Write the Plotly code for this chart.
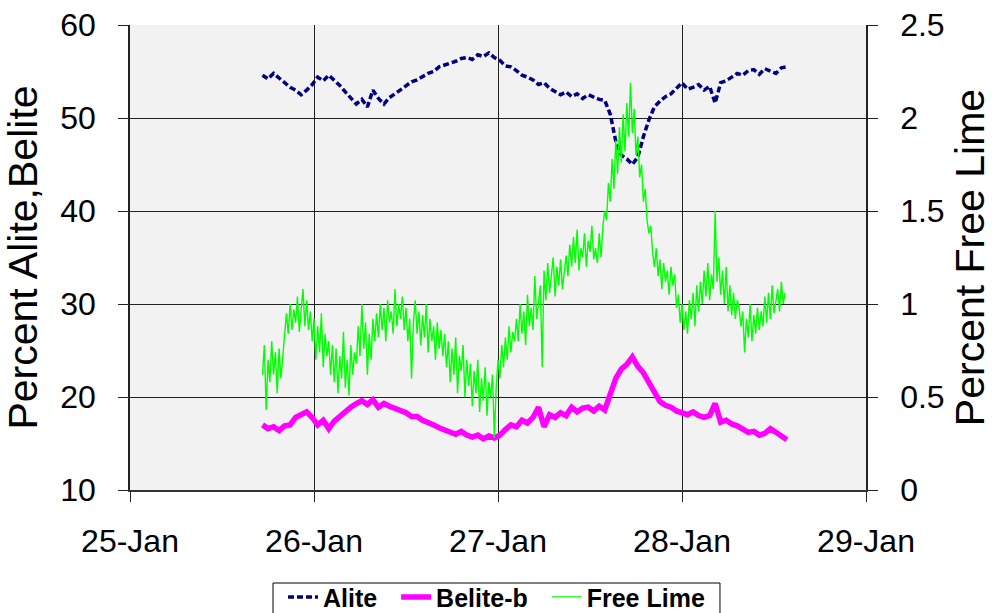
import pandas as pd
import plotly.graph_objects as go

# Sampling start and intervals of the kiln analyser records
START = pd.Timestamp("2003-01-25 17:17")
STEP_AB = "2592s"   # Alite / Belite-b sampling interval (0.03 day)
STEP_FL = "864s"    # Free Lime sampling interval (0.01 day)

# Percent Alite (left axis)
alite = [
    54.6, 54.2, 54.8, 54.3, 53.7, 53.3, 53.0, 52.5, 53.0, 53.6,
    54.4, 54.0, 54.6, 54.1, 53.5, 52.8, 52.2, 51.5, 52.0, 51.2,
    53.0, 52.1, 51.5, 52.2, 52.6, 53.0, 53.4, 53.9, 54.1, 54.5,
    54.8, 55.0, 55.5, 55.7, 55.9, 56.1, 56.4, 56.5, 56.3, 56.8,
    56.6, 57.0, 56.5, 56.2, 55.6, 55.5, 55.1, 54.6, 54.4, 54.1,
    53.6, 53.8, 53.2, 52.8, 52.5, 52.8, 52.3, 52.6, 52.1, 52.5,
    52.2, 52.0, 51.9, 50.4, 47.5, 46.0, 45.6, 45.0, 45.8, 48.0,
    49.8, 51.2, 51.8, 52.3, 52.6, 53.2, 53.8, 53.1, 53.3, 53.6,
    53.0, 53.4, 51.6, 53.8, 54.0, 54.4, 54.8, 54.6, 55.1, 55.2,
    54.7, 55.3, 55.0, 54.8, 55.4, 55.5,
]

# Percent Belite-b (left axis)
belite_b = [
    17.0, 16.6, 16.8, 16.4, 16.9, 17.0, 17.8, 18.1, 18.4, 17.8,
    17.0, 17.5, 16.6, 17.4, 17.9, 18.5, 18.9, 19.3, 19.6, 19.2,
    19.7, 18.9, 19.3, 19.0, 18.8, 18.6, 18.3, 17.9, 17.9, 17.5,
    17.3, 17.0, 16.7, 16.5, 16.2, 16.0, 16.3, 15.9, 15.7, 15.9,
    15.5, 15.8, 15.6, 15.9, 16.5, 17.0, 16.8, 17.5, 17.2, 17.8,
    18.9, 16.8, 18.1, 17.8, 18.3, 18.0, 18.9, 18.4, 18.8, 18.9,
    18.5, 19.0, 18.6, 20.2, 22.0, 23.0, 23.5, 24.3, 23.3, 22.6,
    21.6, 20.4, 19.5, 19.1, 18.9, 18.5, 18.3, 18.1, 18.4, 18.0,
    17.8, 18.0, 19.3, 17.3, 17.5, 17.1, 16.9, 16.5, 16.2, 16.3,
    15.9, 16.1, 16.6, 16.2, 15.8, 15.4,
]

# Percent Free Lime (right axis)
free_lime = [
    0.62, 0.78, 0.43, 0.70, 0.58, 0.80, 0.62, 0.74, 0.52, 0.76, 0.60, 0.72,
    0.82, 0.95, 0.84, 1.00, 0.86, 0.97, 0.90, 1.04, 0.85, 0.98, 1.08, 0.88, 1.02, 0.86, 0.96,
    0.80, 0.92, 0.70, 0.88, 0.74, 0.95, 0.66, 0.84, 0.72, 0.80, 0.62, 0.78,
    0.58, 0.76, 0.52, 0.72, 0.60, 0.85, 0.55, 0.70, 0.51, 0.78, 0.62, 0.74,
    0.68, 0.88, 0.72, 1.00, 0.76, 0.90, 0.62, 0.84, 0.70, 0.92, 0.80,
    0.95, 0.82, 1.00, 0.86, 0.98, 0.80, 1.02, 0.90, 0.96, 0.84, 1.08, 0.88, 1.00, 0.92,
    1.04, 0.86, 0.98, 0.80, 0.92, 0.60, 0.90, 1.02, 0.84, 0.96, 0.78, 0.94,
    0.82, 1.00, 0.74, 0.92, 0.80, 0.88, 0.70, 0.90, 0.76, 0.86, 0.72, 0.84,
    0.66, 0.80, 0.58, 0.76, 0.62, 0.82, 0.52, 0.72, 0.64, 0.78, 0.50, 0.70,
    0.56, 0.68, 0.45, 0.64, 0.52, 0.70, 0.42, 0.60, 0.48, 0.66, 0.40, 0.58, 0.50, 0.62, 0.28,
    0.55, 0.70, 0.60, 0.78, 0.66, 0.82, 0.70, 0.88, 0.74, 0.85, 0.80,
    0.92, 0.80, 1.00, 0.84, 0.96, 0.78, 1.05, 0.88, 0.98, 0.86, 1.15, 0.92, 1.02,
    1.10, 0.66, 1.18, 1.02, 1.22, 1.06, 1.15, 1.25, 1.04, 1.20, 1.10, 1.24, 1.08, 1.18,
    1.26, 1.15, 1.32, 1.20, 1.36, 1.22, 1.40, 1.18, 1.30, 1.25, 1.38, 1.20, 1.34, 1.28, 1.42, 1.24,
    1.30, 1.22, 1.38, 1.25, 1.42,
    1.50, 1.45, 1.65, 1.55, 1.78, 1.62, 1.88, 1.70, 1.95, 1.76, 2.02, 1.82, 2.08, 1.90, 2.19,
    1.92, 2.05, 1.80, 1.90, 1.68, 1.75, 1.55, 1.62, 1.45, 1.38, 1.42, 1.28,
    1.20, 1.30, 1.15, 1.24, 1.08, 1.22, 1.12, 1.18, 1.05, 1.20, 1.10, 1.16,
    0.98, 1.05, 0.90, 1.00, 0.86, 0.96, 0.84, 1.02, 0.92, 1.06, 0.88, 1.10, 0.96,
    1.12, 1.00, 1.18, 1.04, 1.22, 1.02, 1.16, 1.08,
    1.50,
    1.12, 1.25, 1.05, 1.18, 1.00, 1.20, 0.96, 1.10, 0.94, 1.06, 0.92, 1.02, 0.98,
    0.88, 0.96, 0.74, 0.92, 0.82, 1.00, 0.80, 0.94, 0.84, 0.98, 0.86,
    0.96, 0.88, 1.04, 0.90, 1.06, 0.92, 1.10, 0.95, 1.02, 1.08, 0.96, 1.12, 1.00, 1.06,
]

# Legend labels (non-breaking spaces widen the gap between entries)
names = ["Alite\u00a0\u00a0", "Belite-b\u00a0\u00a0", "Free Lime"]

t_ab = pd.date_range(START, periods=len(alite), freq=STEP_AB)
t_fl = pd.date_range(START, periods=len(free_lime), freq=STEP_FL)

FONT = "Liberation Sans, Arial, sans-serif"

fig = go.Figure()
fig.add_trace(go.Scatter(
    x=t_ab, y=alite, name=names[0], mode="lines",
    line=dict(color="#000080", width=3.5, dash="6px,3px"),
))
fig.add_trace(go.Scatter(
    x=t_ab, y=belite_b, name=names[1], mode="lines",
    line=dict(color="#ff00ff", width=5.5),
))
fig.add_trace(go.Scatter(
    x=t_fl, y=free_lime, name=names[2], mode="lines", yaxis="y2",
    line=dict(color="#00ff00", width=1.4),
))

# Framed legend box running off the bottom edge of the page
fig.add_shape(
    type="rect", xref="paper", yref="paper",
    x0=0.1943, x1=0.8016, y0=-0.2, y1=-0.32,
    line=dict(color="black", width=1), fillcolor="white", layer="below",
)

fig.update_layout(
    width=997, height=613,
    margin=dict(l=130, r=131, t=25, b=123, autoexpand=False),
    paper_bgcolor="white",
    plot_bgcolor="#f2f2f2",
    font=dict(family=FONT, size=32, color="black"),
    hovermode=False,
    legend=dict(
        orientation="h", x=0.498, xanchor="center", y=-0.181, yanchor="top",
        borderwidth=0, bgcolor="rgba(0,0,0,0)",
        font=dict(family=FONT, size=25, color="black", weight="bold"),
        itemwidth=30, tracegroupgap=0,
    ),
    xaxis=dict(
        type="date",
        range=["2003-01-25", "2003-01-29"],
        dtick=86400000, tickformat="%d-%b",
        ticks="outside", ticklen=10, tickcolor="#222",
        showgrid=True, gridcolor="#222", gridwidth=1,
        showline=True, linecolor="#333", linewidth=2,
        zeroline=False, ticklabelstandoff=12,
        tickfont=dict(size=32),
    ),
    yaxis=dict(
        range=[10, 60], dtick=10,
        ticks="outside", ticklen=10, tickcolor="#222",
        showgrid=True, gridcolor="#222", gridwidth=1,
        showline=True, linecolor="#222", linewidth=1.5,
        zeroline=False, ticklabelstandoff=16,
        tickfont=dict(size=32),
        title=dict(text="Percent Alite,Belite", font=dict(size=41), standoff=12),
    ),
    yaxis2=dict(
        overlaying="y", side="right",
        range=[0, 2.5], dtick=0.5,
        ticks="outside", ticklen=10, tickcolor="#222",
        showgrid=False,
        showline=True, linecolor="#222", linewidth=1.5,
        zeroline=False, ticklabelstandoff=16,
        tickfont=dict(size=32),
        title=dict(text="Percent Free Lime", font=dict(size=41), standoff=12),
    ),
)

fig.write_html("out.html")
